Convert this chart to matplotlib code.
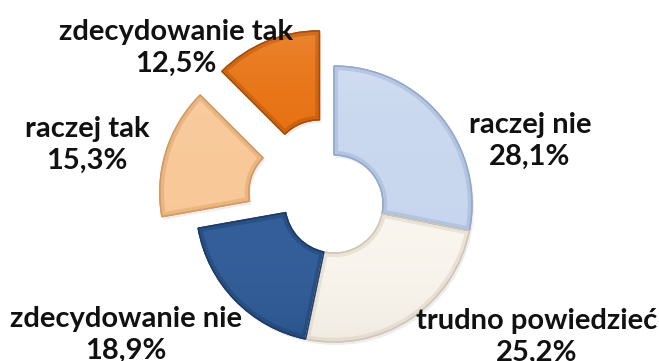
import numpy as np
import matplotlib
matplotlib.use("Agg")
import matplotlib.pyplot as plt
from matplotlib.patches import Wedge
from matplotlib.colors import to_rgb

# answers, clockwise from 12 o'clock
labels = ["raczej nie", "trudno powiedzieć", "zdecydowanie nie", "raczej tak", "zdecydowanie tak"]
shares = [28.1, 25.2, 18.9, 15.3, 12.5]

colors = ["#c8d7ef", "#fbf7f0", "#2f5c99", "#f9c897", "#e86f0c"]
edges = ["#93a9cc", "#d2c7b6", "#1c3b68", "#d49a62", "#a94c06"]
# pull-out distance in pixels (pie uses absolute units here)
explode = [0, 0, 0, 38, 38]
label_pos = [(530, 141), (537, 337), (126, 335), (87, 145), (176, 48)]

W, H = 659, 361
fig = plt.figure(figsize=(W / 100, H / 100), dpi=100)
ax = fig.add_axes([0, 0, 1, 1])

cx, cy, R, r_in = 334, 204, 138, 49

wedges, _ = ax.pie(shares, colors=colors, explode=explode, radius=R, center=(cx, cy),
                   startangle=-90, counterclock=True, frame=True,
                   wedgeprops=dict(width=R - r_in, linewidth=1.0))

# soft drop shadow under each piece
for w in wedges:
    sh = Wedge((w.center[0] + 2, w.center[1] + 3), w.r, w.theta1, w.theta2,
               width=w.width, facecolor="#000000", alpha=0.07,
               edgecolor="none", zorder=0.5)
    ax.add_patch(sh)

for w, col, ec in zip(wedges, colors, edges):
    w.set_edgecolor(ec)
    w.set_zorder(1)
    # light-to-dark vertical gradient clipped to the piece
    x0, y0 = w.center[0] - R, w.center[1] - R
    t = np.linspace(0, 1, 256)[:, None, None] * np.ones((1, 4, 1))
    grad = np.zeros((256, 4, 4))
    top = np.array(to_rgb("white"))
    bot = np.array(to_rgb(ec))
    grad[..., :3] = (1 - t) * top + t * bot
    grad[..., 3] = (0.15 * (1 - t) ** 3 + 0.25 * t ** 3)[..., 0]
    im = ax.imshow(grad, extent=(x0, x0 + 2 * R, y0 + 2 * R, y0), origin="upper",
                   interpolation="bilinear", zorder=1.5, aspect="auto")
    im.set_clip_path(w)
    # bevelled rim: wide edge stroke clipped to the inside of the piece
    rim = Wedge(w.center, w.r, w.theta1, w.theta2, width=w.width,
                facecolor="none", edgecolor=ec, linewidth=6, alpha=0.4, zorder=1.6)
    ax.add_patch(rim)
    rim.set_clip_path(w)
    outline = Wedge(w.center, w.r, w.theta1, w.theta2, width=w.width,
                    facecolor="none", edgecolor=ec, linewidth=1.0, zorder=1.7)
    ax.add_patch(outline)

for lab, val, (x, y) in zip(labels, shares, label_pos):
    txt = f"{lab}\n{val:.1f}%".replace(".", ",")
    ax.text(x, y, txt, ha="center", va="center", fontsize=21, fontweight="bold",
            family="Lato", color="#111111", linespacing=1.3, zorder=3)

ax.set_xlim(0, W)
ax.set_ylim(H, 0)
ax.set_aspect("equal")
ax.axis("off")
fig.savefig("out.png", dpi=100, facecolor="white")
